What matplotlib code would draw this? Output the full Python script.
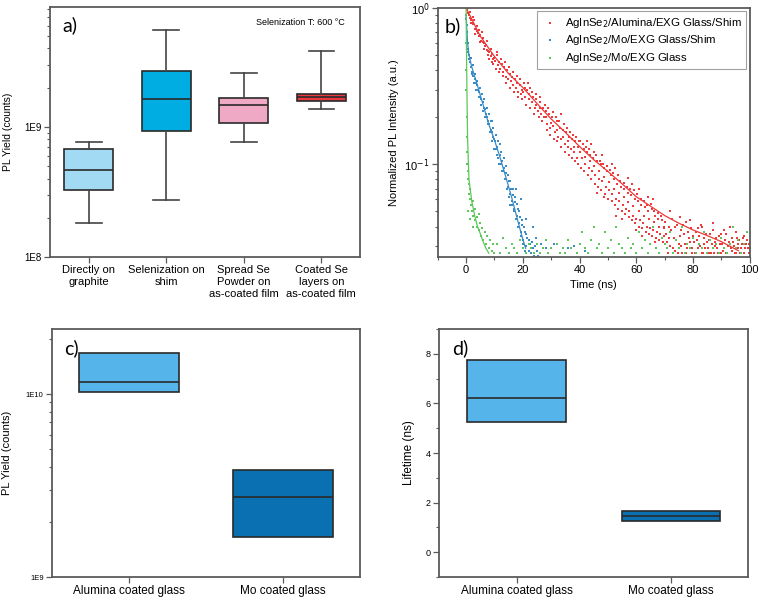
import numpy as np
import matplotlib
matplotlib.use("Agg")
import matplotlib.pyplot as plt
from matplotlib.ticker import FixedLocator, FuncFormatter, MultipleLocator, NullFormatter

plt.rcParams["font.family"] = ["Liberation Sans", "DejaVu Sans"]

# ---- panel a: PL yield box plots (log scale) ----
a_labels = ["Directly on\ngraphite", "Selenization on\nshim",
            "Spread Se\nPowder on\nas-coated film", "Coated Se\nlayers on\nas-coated film"]
a_whislo = [1.84e8, 2.72e8, 7.7e8, 1.38e9]
a_q1 = [3.25e8, 9.3e8, 1.07e9, 1.59e9]
a_med = [4.67e8, 1.63e9, 1.47e9, 1.70e9]
a_q3 = [6.8e8, 2.69e9, 1.66e9, 1.79e9]
a_whishi = [7.7e8, 5.57e9, 2.58e9, 3.82e9]
a_colors = ["#a3daf3", "#00ade2", "#f0a9c5", "#e8393f"]

# ---- panel b: TRPL decays ----
red_pts = [
    (0.2, 0.98), (0.6, 0.93), (1.0, 0.90), (1.4, 0.86), (1.8, 0.84), (2.2, 0.80), (2.6, 0.79),
    (3.0, 0.74), (3.4, 0.73), (3.8, 0.71), (4.2, 0.69), (4.6, 0.66), (5.0, 0.67), (5.4, 0.62),
    (5.8, 0.61), (6.2, 0.60), (6.6, 0.57), (7.0, 0.58), (7.4, 0.54), (7.8, 0.53), (8.2, 0.52),
    (8.6, 0.49), (9.0, 0.51), (9.4, 0.47), (9.8, 0.48), (1.2, 0.95), (2.8, 0.84), (4.4, 0.72),
    (6.0, 0.64), (7.6, 0.50), (9.2, 0.45),
    (10.3, 0.46), (10.8, 0.50), (11.2, 0.43), (11.7, 0.45), (12.1, 0.41), (12.6, 0.44),
    (13.0, 0.39), (13.5, 0.42), (13.9, 0.36), (14.4, 0.40), (14.8, 0.35), (15.3, 0.38),
    (15.7, 0.34), (16.2, 0.36), (16.6, 0.32), (17.1, 0.35), (17.5, 0.31), (18.0, 0.33),
    (18.4, 0.29), (18.9, 0.32), (19.3, 0.28), (19.8, 0.30),
    (20.4, 0.33), (20.9, 0.27), (21.5, 0.30), (22.0, 0.26), (22.6, 0.31), (23.1, 0.25),
    (23.7, 0.27), (24.2, 0.23), (24.8, 0.26), (25.3, 0.22), (25.9, 0.25), (26.4, 0.21),
    (27.0, 0.23), (27.5, 0.20), (28.1, 0.22), (28.6, 0.18), (29.2, 0.21), (29.7, 0.17),
    (30.3, 0.20), (30.8, 0.175), (31.4, 0.16), (31.9, 0.19), (32.5, 0.15), (33.0, 0.17),
    (33.6, 0.145), (34.1, 0.165), (34.7, 0.135), (35.2, 0.16), (35.8, 0.13), (36.3, 0.15),
    (36.9, 0.125), (37.4, 0.145), (38.0, 0.12), (38.5, 0.14), (39.1, 0.11), (39.6, 0.13),
    (40.2, 0.14), (40.8, 0.11), (41.4, 0.125), (42.0, 0.10), (42.6, 0.12), (43.2, 0.095),
    (43.8, 0.115), (44.4, 0.09), (45.0, 0.12), (45.6, 0.085), (46.2, 0.105), (46.8, 0.08),
    (47.4, 0.10), (48.0, 0.078), (48.6, 0.095), (49.2, 0.072), (49.8, 0.09), (50.4, 0.068),
    (51.0, 0.085), (51.6, 0.065), (52.2, 0.08), (52.8, 0.06), (53.4, 0.085), (54.0, 0.058),
    (54.6, 0.072), (55.2, 0.055), (55.8, 0.07), (56.4, 0.052), (57.0, 0.066), (57.6, 0.05),
    (58.2, 0.064), (58.8, 0.047), (59.4, 0.06), (60.0, 0.045), (60.6, 0.058), (61.2, 0.044),
    (61.8, 0.055), (62.4, 0.042), (63.0, 0.053), (63.6, 0.04), (64.2, 0.05), (64.8, 0.039),
    (65.4, 0.052), (66.0, 0.038), (66.6, 0.047), (67.2, 0.037), (67.8, 0.045), (68.4, 0.036),
    (69.0, 0.044), (69.6, 0.035), (33.5, 0.21), (42.5, 0.14), (51.5, 0.10), (58.5, 0.075),
    (64.0, 0.062), (48.5, 0.062), (55.0, 0.045), (62.0, 0.035),
    (70.2, 0.043), (70.8, 0.032), (71.4, 0.04), (72.0, 0.03), (72.6, 0.045), (73.2, 0.034),
    (73.8, 0.028), (74.4, 0.041), (75.0, 0.031), (75.6, 0.038), (76.2, 0.027), (76.8, 0.036),
    (77.4, 0.043), (78.0, 0.029), (78.6, 0.034), (79.2, 0.039), (79.8, 0.027), (80.4, 0.032),
    (81.0, 0.037), (81.6, 0.029), (82.2, 0.035), (82.8, 0.041), (83.4, 0.027), (84.0, 0.031),
    (84.6, 0.036), (85.2, 0.029), (85.8, 0.033), (86.4, 0.027), (87.0, 0.038), (87.6, 0.03),
    (88.2, 0.034), (88.8, 0.027), (89.4, 0.031), (90.0, 0.036), (90.6, 0.028), (91.2, 0.033),
    (91.8, 0.027), (92.4, 0.03), (93.0, 0.04), (93.6, 0.028), (94.2, 0.032), (94.8, 0.027),
    (95.4, 0.034), (96.0, 0.029), (96.6, 0.027), (97.2, 0.031), (97.8, 0.027), (98.4, 0.029),
    (99.0, 0.033), (99.6, 0.027),
    (0.5, 1.0), (1.6, 0.80), (2.4, 0.88), (3.2, 0.68), (4.0, 0.77), (4.8, 0.61), (5.6, 0.70),
    (6.4, 0.55), (7.2, 0.62), (8.0, 0.47), (8.8, 0.55), (9.6, 0.44),
    (10.5, 0.41), (11.0, 0.52), (11.5, 0.39), (12.4, 0.47), (12.9, 0.37), (13.7, 0.45),
    (14.2, 0.33), (15.0, 0.42), (15.5, 0.31), (16.4, 0.39), (16.9, 0.29), (17.8, 0.37),
    (18.2, 0.27), (19.0, 0.35), (19.6, 0.26),
    (20.2, 0.29), (21.2, 0.24), (21.8, 0.33), (22.4, 0.23), (23.4, 0.29), (24.0, 0.21),
    (24.6, 0.28), (25.6, 0.20), (26.2, 0.27), (26.8, 0.19), (27.8, 0.24), (28.4, 0.165),
    (29.0, 0.23), (29.5, 0.155), (30.5, 0.215), (31.1, 0.145), (31.7, 0.2), (32.2, 0.14),
    (32.8, 0.19), (33.3, 0.13), (34.4, 0.18), (34.9, 0.12), (35.5, 0.17), (36.1, 0.115),
    (36.6, 0.16), (37.2, 0.11), (37.8, 0.155), (38.3, 0.105), (38.8, 0.15), (39.4, 0.1),
    (39.9, 0.14),
    (40.5, 0.095), (41.1, 0.135), (41.7, 0.09), (42.3, 0.13), (42.9, 0.085), (43.5, 0.125),
    (44.1, 0.08), (44.7, 0.11), (45.3, 0.075), (45.9, 0.115), (46.5, 0.072), (47.1, 0.105),
    (47.7, 0.068), (48.3, 0.1), (48.9, 0.065), (49.5, 0.098), (50.1, 0.06), (50.7, 0.092),
    (51.3, 0.058), (51.9, 0.088), (52.5, 0.055), (53.1, 0.075), (53.7, 0.052), (54.3, 0.078),
    (54.9, 0.05), (55.5, 0.076), (56.1, 0.048), (56.7, 0.072), (57.3, 0.046), (57.9, 0.07),
    (58.5, 0.044), (59.1, 0.068), (59.7, 0.042), (60.3, 0.065), (60.9, 0.04), (61.5, 0.06),
    (62.1, 0.039), (62.7, 0.058), (63.3, 0.037), (63.9, 0.055), (64.5, 0.036), (65.1, 0.056),
    (65.7, 0.035), (66.3, 0.05), (66.9, 0.034), (67.5, 0.049), (68.1, 0.033), (68.7, 0.047),
    (69.3, 0.032), (69.9, 0.04),
    (70.5, 0.036), (71.1, 0.027), (71.7, 0.034), (72.3, 0.038), (72.9, 0.029), (73.5, 0.04),
    (74.1, 0.033), (74.7, 0.027), (75.3, 0.035), (75.9, 0.03), (76.5, 0.041), (77.1, 0.031),
    (77.7, 0.027), (78.3, 0.037), (78.9, 0.032), (79.5, 0.029), (80.1, 0.035), (80.7, 0.027),
    (81.3, 0.033), (81.9, 0.039), (82.5, 0.03), (83.1, 0.027), (83.7, 0.034), (84.3, 0.029),
    (84.9, 0.032), (85.5, 0.027), (86.1, 0.036), (86.7, 0.031), (87.3, 0.027), (87.9, 0.032),
    (88.5, 0.029), (89.1, 0.035), (89.7, 0.027), (90.3, 0.031), (90.9, 0.029), (91.5, 0.036),
    (92.1, 0.027), (92.7, 0.032), (93.3, 0.029), (93.9, 0.034), (94.5, 0.03), (95.1, 0.027),
    (95.7, 0.031), (96.3, 0.033), (96.9, 0.029), (97.5, 0.034), (98.1, 0.027), (98.7, 0.031),
    (99.3, 0.029), (99.9, 0.031),
    (20.7, 0.31), (22.3, 0.28), (24.5, 0.24), (26.1, 0.23), (28.3, 0.2), (30.1, 0.185),
    (32.1, 0.165), (34.3, 0.15), (36.0, 0.14), (38.2, 0.13), (40.0, 0.12), (41.9, 0.112),
    (43.6, 0.105), (45.2, 0.098), (47.0, 0.09), (48.7, 0.083), (50.5, 0.077), (52.0, 0.07),
    (53.9, 0.066), (55.7, 0.062), (57.2, 0.057), (59.0, 0.054), (60.8, 0.05), (62.6, 0.047),
    (64.4, 0.045), (66.1, 0.043), (67.9, 0.04), (69.7, 0.039), (44.0, 0.135), (47.8, 0.115),
    (52.6, 0.095), (56.9, 0.082), (61.0, 0.07), (65.8, 0.06), (46.0, 0.066), (53.0, 0.047),
    (59.8, 0.038), (66.5, 0.032), (71.9, 0.05), (75.5, 0.046), (79.0, 0.044), (83.0, 0.04),
    (86.9, 0.042), (91.0, 0.038), (95.0, 0.037), (98.0, 0.035),
]
blue_pts = [
    (0.1, 0.85), (0.3, 0.7), (0.5, 0.6), (0.8, 0.52), (1.1, 0.47), (1.4, 0.45), (1.8, 0.42),
    (2.2, 0.39), (2.6, 0.37), (3.0, 0.35), (3.4, 0.33), (3.8, 0.32), (4.2, 0.30), (4.6, 0.29),
    (5.0, 0.27), (5.4, 0.26), (5.8, 0.25), (6.2, 0.23), (6.6, 0.225), (7.0, 0.21), (7.4, 0.20),
    (7.8, 0.19), (8.2, 0.18), (8.6, 0.165), (9.0, 0.16), (9.4, 0.15), (9.8, 0.145), (10.2, 0.14),
    (10.6, 0.125), (11.0, 0.13), (11.4, 0.11), (11.8, 0.115), (12.2, 0.10), (12.6, 0.105),
    (13.0, 0.09), (13.4, 0.095), (13.8, 0.08), (14.2, 0.088), (14.6, 0.072), (15.0, 0.078),
    (15.4, 0.065), (15.8, 0.07), (16.2, 0.058), (16.6, 0.064), (17.0, 0.052), (17.4, 0.057),
    (17.8, 0.047), (18.2, 0.052), (18.6, 0.042), (19.0, 0.046), (19.4, 0.037), (19.8, 0.041),
    (20.2, 0.033), (20.6, 0.037), (21.0, 0.03), (21.5, 0.034), (22.0, 0.028), (22.5, 0.031),
    (23.0, 0.027), (23.5, 0.029), (24.0, 0.026), (25.0, 0.028), (26.0, 0.027),
    (9.0, 0.19), (12.0, 0.135), (15.5, 0.055), (17.5, 0.07), (19.5, 0.06), (21.0, 0.045),
    (23.5, 0.04), (24.5, 0.034), (26.5, 0.031), (28.0, 0.029), (31.0, 0.031), (36.0, 0.029),
    (38.0, 0.03), (42.0, 0.028),
    (0.2, 0.78), (0.6, 0.55), (1.0, 0.5), (1.6, 0.48), (2.0, 0.38), (2.4, 0.43), (2.8, 0.33),
    (3.2, 0.38), (3.6, 0.30), (4.0, 0.34), (4.4, 0.27), (4.8, 0.31), (5.2, 0.24), (5.6, 0.28),
    (6.0, 0.22), (6.4, 0.26), (6.8, 0.2), (7.2, 0.23), (7.6, 0.18), (8.0, 0.21), (8.4, 0.16),
    (8.8, 0.19), (9.2, 0.14), (9.6, 0.17), (10.0, 0.125), (10.4, 0.155), (10.8, 0.115),
    (11.2, 0.14), (11.6, 0.1), (12.4, 0.12), (12.8, 0.09), (13.2, 0.11), (13.6, 0.08),
    (14.0, 0.098), (14.4, 0.07), (14.8, 0.086), (15.2, 0.062), (15.6, 0.078), (16.0, 0.055),
    (16.4, 0.07), (16.8, 0.05), (17.2, 0.062), (17.6, 0.045), (18.0, 0.056), (18.4, 0.04),
    (18.8, 0.05), (19.2, 0.035), (19.6, 0.044), (20.0, 0.031), (20.4, 0.04), (20.8, 0.028),
    (21.2, 0.036), (22.2, 0.033), (22.8, 0.027), (23.2, 0.032), (24.2, 0.03), (25.5, 0.026),
]
green_pts = [
    (0.0, 0.9), (0.02, 0.6), (0.05, 0.4), (0.1, 0.3), (0.15, 0.2), (0.2, 0.15), (0.3, 0.12),
    (0.4, 0.1), (0.5, 0.09), (0.7, 0.08), (0.9, 0.075), (1.0, 0.065), (1.2, 0.07), (1.5, 0.06),
    (1.8, 0.055), (2.0, 0.05), (2.3, 0.058), (2.6, 0.047), (3.0, 0.052), (3.3, 0.044),
    (3.7, 0.04), (4.0, 0.046), (4.4, 0.038), (4.8, 0.042), (5.2, 0.035), (5.6, 0.039),
    (6.0, 0.033), (6.5, 0.037), (7.0, 0.031), (7.5, 0.035), (8.0, 0.029), (8.5, 0.033),
    (9.0, 0.028), (9.5, 0.031), (10.0, 0.027), (1.5, 0.045), (2.5, 0.04), (4.5, 0.048), (0.8, 0.05),
    (11, 0.031), (12, 0.027), (13, 0.034), (14, 0.029), (15, 0.027), (16, 0.031), (17, 0.029),
    (18, 0.027), (19, 0.033), (20, 0.029), (21, 0.027), (22, 0.031), (23, 0.029), (24, 0.027),
    (25, 0.031), (26, 0.027), (27, 0.029), (28, 0.033), (29, 0.027), (30, 0.029), (32, 0.031),
    (33, 0.027), (34, 0.029), (35, 0.027), (36, 0.033), (37, 0.029), (39, 0.027), (40, 0.031),
    (41, 0.037), (42, 0.029), (43, 0.027), (44, 0.033), (45, 0.04), (46, 0.029), (47, 0.031),
    (48, 0.027), (49, 0.037), (50, 0.029), (51, 0.033), (52, 0.027), (53, 0.04), (54, 0.031),
    (55, 0.029), (56, 0.027), (57, 0.034), (58, 0.029), (59, 0.031), (60, 0.027), (61, 0.037),
    (62, 0.029), (63, 0.033), (64, 0.027), (65, 0.031), (66, 0.04), (67, 0.029), (68, 0.027),
    (69, 0.034), (70, 0.031), (71, 0.029), (72, 0.037), (73, 0.027), (74, 0.033), (75, 0.029),
    (76, 0.04), (77, 0.027), (78, 0.031), (79, 0.029), (80, 0.034), (81, 0.027), (82, 0.031),
    (83, 0.029), (84, 0.037), (85, 0.027), (86, 0.033), (87, 0.029), (88, 0.031), (89, 0.027),
    (90, 0.034), (91, 0.029), (92, 0.027), (93, 0.031), (94, 0.04), (95, 0.029), (96, 0.033),
    (97, 0.027), (98, 0.031), (99, 0.037), (100, 0.029),
]
red_fit_t = [0, 2, 5, 10, 15, 20, 25, 30, 35, 40, 45, 50, 55, 60, 65, 70, 75, 80, 85, 90, 96]
red_fit_y = [1.0, 0.85, 0.66, 0.49, 0.38, 0.31, 0.245, 0.195, 0.16, 0.13, 0.107, 0.09,
             0.075, 0.062, 0.054, 0.047, 0.042, 0.038, 0.035, 0.032, 0.028]
blue_fit_t = [0, 0.5, 1, 2, 4, 6, 8, 10, 12, 14, 16, 18, 20, 21]
blue_fit_y = [0.9, 0.6, 0.5, 0.42, 0.32, 0.24, 0.18, 0.143, 0.11, 0.083, 0.062, 0.045, 0.033, 0.029]
green_fit_t = [0, 0.2, 0.5, 1, 2, 3, 4, 5, 6, 7, 8]
green_fit_y = [1.0, 0.4, 0.15, 0.08, 0.058, 0.047, 0.04, 0.036, 0.032, 0.029, 0.027]
b_labels = ["AgInSe$_2$/Alumina/EXG Glass/Shim", "AgInSe$_2$/Mo/EXG Glass/Shim", "AgInSe$_2$/Mo/EXG Glass"]
b_colors = ["#ee3a3a", "#3a8cc8", "#5cc85c"]

# ---- panels c, d: substrate comparison ----
cd_labels = ["Alumina coated glass", "Mo coated glass"]
c_q1 = [1.026e10, 1.66e9]
c_med = [1.17e10, 2.73e9]
c_q3 = [1.67e10, 3.83e9]
d_q1 = [5.24, 1.27]
d_med = [6.21, 1.48]
d_q3 = [7.76, 1.68]
cd_colors = ["#55b5eb", "#0b70b2"]

SPINE = "#5a5a5a"
EDGE = "#2a2a2a"


def style_axes(ax):
    for s in ax.spines.values():
        s.set_color(SPINE)
        s.set_linewidth(1.3)
    ax.tick_params(which="major", direction="out", length=4, width=0.9, color=SPINE, pad=2)
    ax.tick_params(which="minor", direction="out", length=2.5, width=0.8, color=SPINE)


def draw_boxes(ax, q1, med, q3, lo, hi, colors, width, capw, caps=True):
    stats = [dict(q1=a, med=m, q3=b, whislo=l, whishi=h, fliers=[])
             for a, m, b, l, h in zip(q1, med, q3, lo, hi)]
    bp = ax.bxp(stats, positions=range(1, len(stats) + 1), widths=width, patch_artist=True,
                showcaps=caps, capwidths=capw, showfliers=False,
                boxprops=dict(edgecolor=EDGE, linewidth=1.2),
                medianprops=dict(color=EDGE, linewidth=1.2),
                whiskerprops=dict(color="#444444", linewidth=1.2),
                capprops=dict(color="#444444", linewidth=1.2))
    for patch, c in zip(bp["boxes"], colors):
        patch.set_facecolor(c)
    return bp


def e_fmt(v, pos):
    return "1E%d" % int(round(np.log10(v)))


fig = plt.figure(figsize=(7.6, 6.02), dpi=100)
ax_a = fig.add_axes([0.0658, 0.573, 0.408, 0.415])
ax_b = fig.add_axes([0.576, 0.573, 0.4105, 0.4136])
ax_c = fig.add_axes([0.0684, 0.0415, 0.405, 0.412])
ax_d = fig.add_axes([0.578, 0.0415, 0.4066, 0.412])

# panel a
draw_boxes(ax_a, a_q1, a_med, a_q3, a_whislo, a_whishi, a_colors, 0.63, 0.33)
ax_a.set_yscale("log")
ax_a.set_ylim(1e8, 8.3e9)
ax_a.set_xlim(0.5, 4.5)
ax_a.yaxis.set_major_locator(FixedLocator([1e8, 1e9]))
ax_a.yaxis.set_major_formatter(FuncFormatter(e_fmt))
ax_a.yaxis.set_minor_locator(FixedLocator([k * 1e8 for k in range(2, 10)] + [k * 1e9 for k in range(2, 9)]))
ax_a.yaxis.set_minor_formatter(NullFormatter())
ax_a.set_xticks(range(1, 5))
ax_a.set_xticklabels(a_labels, fontsize=8)
ax_a.tick_params(axis="y", labelsize=7)
ax_a.set_ylabel("PL Yield (counts)", fontsize=7.5, labelpad=8)
style_axes(ax_a)
ax_a.text(0.04, 0.965, "a)", transform=ax_a.transAxes, fontsize=14, family=["Lato", "DejaVu Sans"], va="top")
ax_a.text(0.95, 0.955, "Selenization T: 600 °C", transform=ax_a.transAxes, fontsize=6.5, ha="right", va="top")

# panel b
for pts, ft, fy, col, lab in [(red_pts, red_fit_t, red_fit_y, b_colors[0], b_labels[0]),
                               (blue_pts, blue_fit_t, blue_fit_y, b_colors[1], b_labels[1]),
                               (green_pts, green_fit_t, green_fit_y, b_colors[2], b_labels[2])]:
    arr = np.array(pts)
    ax_b.scatter(arr[:, 0], arr[:, 1], s=4.5, marker="s", color=col, linewidths=0, label=lab)
    ax_b.plot(ft, fy, color=col, linewidth=0.9)
ax_b.set_yscale("log")
ax_b.set_xlim(-10, 100)
ax_b.set_ylim(0.0255, 1)
ax_b.xaxis.set_major_locator(MultipleLocator(20))
ax_b.xaxis.set_minor_locator(MultipleLocator(10))
ax_b.yaxis.set_major_locator(FixedLocator([0.1, 1]))
ax_b.yaxis.set_major_formatter(FuncFormatter(lambda v, p: "10$^{%d}$" % int(round(np.log10(v)))))
ax_b.yaxis.set_minor_locator(FixedLocator([k * 0.01 for k in range(3, 10)] + [k * 0.1 for k in range(2, 10)]))
ax_b.yaxis.set_minor_formatter(NullFormatter())
ax_b.tick_params(labelsize=8)
ax_b.set_xlabel("Time (ns)", fontsize=8, labelpad=3)
ax_b.set_ylabel("Normalized PL Intensity (a.u.)", fontsize=8, labelpad=4)
style_axes(ax_b)
leg = ax_b.legend(loc="upper right", fontsize=8.2, markerscale=1.0, handletextpad=0.5, handlelength=1.6,
                  fancybox=False, borderaxespad=0.3, labelspacing=0.3, scatterpoints=1)
leg.get_frame().set_edgecolor("#8a8a8a")
leg.get_frame().set_linewidth(0.8)
ax_b.text(0.022, 0.965, "b)", transform=ax_b.transAxes, fontsize=14, family=["Lato", "DejaVu Sans"], va="top")

# panel c
draw_boxes(ax_c, c_q1, c_med, c_q3, c_q1, c_q3, cd_colors, 0.65, 0.0, caps=False)
ax_c.set_yscale("log")
ax_c.set_ylim(1e9, 2.27e10)
ax_c.set_xlim(0.5, 2.5)
ax_c.yaxis.set_major_locator(FixedLocator([1e9, 1e10]))
ax_c.yaxis.set_major_formatter(FuncFormatter(e_fmt))
ax_c.yaxis.set_minor_locator(FixedLocator([k * 1e9 for k in range(2, 10)] + [2e10]))
ax_c.yaxis.set_minor_formatter(NullFormatter())
ax_c.set_xticks([1, 2])
ax_c.set_xticklabels(cd_labels, fontsize=8.5)
ax_c.tick_params(axis="y", labelsize=5.5)
ax_c.set_ylabel("PL Yield (counts)", fontsize=8, labelpad=10)
style_axes(ax_c)
ax_c.text(0.04, 0.96, "c)", transform=ax_c.transAxes, fontsize=14, family=["Lato", "DejaVu Sans"], va="top")

# panel d
draw_boxes(ax_d, d_q1, d_med, d_q3, d_q1, d_q3, cd_colors, 0.64, 0.0, caps=False)
ax_d.set_ylim(-1, 9)
ax_d.set_xlim(0.5, 2.5)
ax_d.yaxis.set_major_locator(MultipleLocator(2))
ax_d.yaxis.set_minor_locator(MultipleLocator(1))
ax_d.set_xticks([1, 2])
ax_d.set_xticklabels(cd_labels, fontsize=8.5)
ax_d.tick_params(axis="y", labelsize=6.5)
ax_d.set_ylabel("Lifetime (ns)", fontsize=8.5, labelpad=8)
style_axes(ax_d)
ax_d.text(0.04, 0.96, "d)", transform=ax_d.transAxes, fontsize=14, family=["Lato", "DejaVu Sans"], va="top")

fig.savefig("out.png", dpi=100)
